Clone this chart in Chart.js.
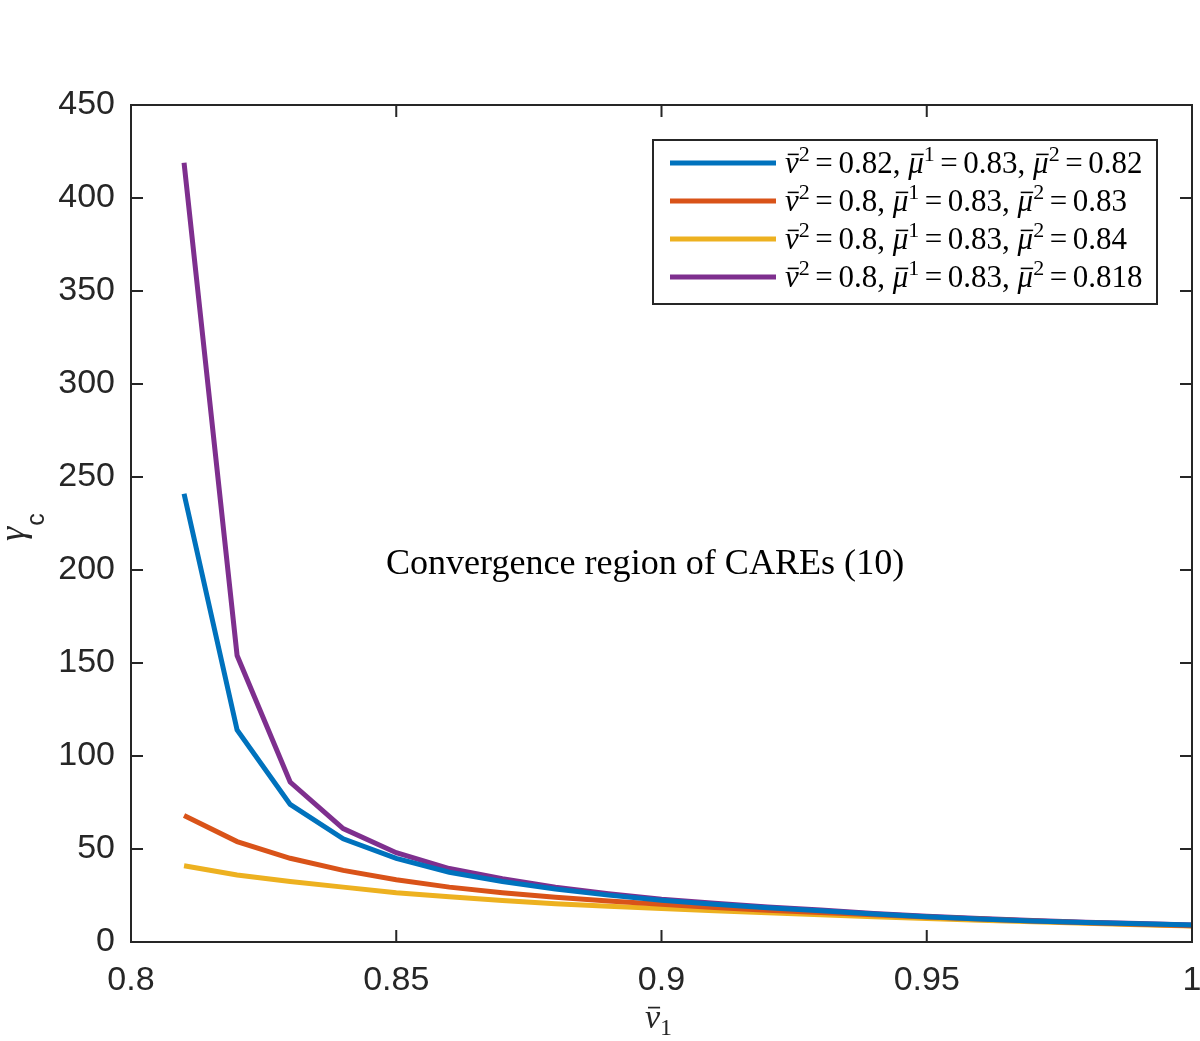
<!DOCTYPE html>
<html><head><meta charset="utf-8">
<script src="https://cdn.jsdelivr.net/npm/chart.js@4/dist/chart.umd.min.js"></script>
<style>html,body{margin:0;padding:0;background:#fff}</style>
</head><body>
<canvas id="c" width="1200" height="1041"></canvas>
<script>
// ---- data ----
const xValues = [0.81,0.82,0.83,0.84,0.85,0.86,0.87,0.88,0.89,0.90,0.91,0.92,0.93,0.94,0.95,0.96,0.97,0.98,0.99,1.00];
const blueValues   = [241,114,74,55.5,45,37.5,32.5,28.5,25.2,22.5,20.3,18.4,16.8,15.1,13.6,12.4,11.3,10.5,9.8,9.1];
const orangeValues = [68,54,45,38.5,33.5,29.5,26.5,24,22,20.3,18.6,17.1,15.8,14.6,13.4,12.3,11.3,10.4,9.6,8.8];
const yellowValues = [41,36,32.5,29.5,26.5,24.3,22.3,20.6,19.2,18,16.8,15.7,14.6,13.6,12.6,11.7,10.9,10.1,9.3,8.6];
const purpleValues = [419,154,86,61,48,39.5,34,29.5,26,23,20.8,18.8,17.2,15.3,13.8,12.6,11.5,10.6,9.9,9.2];
const seriesNames = ["v̄²=0.82, μ̄¹=0.83, μ̄²=0.82","v̄²=0.8, μ̄¹=0.83, μ̄²=0.83","v̄²=0.8, μ̄¹=0.83, μ̄²=0.84","v̄²=0.8, μ̄¹=0.83, μ̄²=0.818"];
const legendParams = [["0.82","0.83","0.82"],["0.8","0.83","0.83"],["0.8","0.83","0.84"],["0.8","0.83","0.818"]];
const seriesColors = ["#0072BD","#D95319","#EDB120","#7E2F8E"];
const xMin = 0.8, xMax = 1.0, xStep = 0.05;
const yMin = 0, yMax = 450, yStep = 50;
const annotationText = "Convergence region of CAREs (10)";
const annotationPos = {x: 0.8969, y: 203};

const SERIF = '"Liberation Serif", "DejaVu Serif", serif';
const SANS = '"Liberation Sans", Arial, sans-serif';
const AXC = '#262626';

function mk(vals){ return xValues.map((x,i)=>({x:x,y:vals[i]})); }
const allVals = [blueValues, orangeValues, yellowValues, purpleValues];

// rich text: tokens [text, kind]; kinds: r, i, ib (italic with bar), sup, sub, eq (relation with spacing)
function drawRich(ctx, x, y, tokens, size){
  let cx = x;
  for (const [t,k] of tokens){
    let f, dy = 0, pre = 0, post = 0;
    if (k==='r') f = size+'px '+SERIF;
    else if (k==='eq') { f = size+'px '+SERIF; pre = post = size*0.18; }
    else if (k==='i' || k==='ib') f = 'italic '+size+'px '+SERIF;
    else if (k==='sup') { f = Math.round(size*0.72)+'px '+SERIF; dy = -size*0.40; }
    else if (k==='sub') { f = Math.round(size*0.72)+'px '+SERIF; dy = size*0.22; }
    ctx.font = f;
    cx += pre;
    ctx.fillText(t, cx, y+dy);
    const w = ctx.measureText(t).width;
    if (k==='ib'){
      ctx.save();
      ctx.lineWidth = Math.max(1, size*0.05);
      ctx.strokeStyle = ctx.fillStyle;
      ctx.beginPath();
      ctx.moveTo(cx + w*0.2, y - size*0.6);
      ctx.lineTo(cx + w*1.0, y - size*0.6);
      ctx.stroke();
      ctx.restore();
    }
    cx += w + post;
  }
  return cx - x;
}

const overlay = {
  id: 'overlay',
  afterDraw(chart){
    const ctx = chart.ctx, a = chart.chartArea;
    const xs = chart.scales.x, ys = chart.scales.y;
    ctx.save();
    // frame
    ctx.strokeStyle = AXC; ctx.lineWidth = 2;
    ctx.strokeRect(a.left, a.top, a.right-a.left, a.bottom-a.top);
    // inward ticks on all four sides
    const TL = 12;
    ctx.beginPath();
    xs.ticks.forEach(t=>{
      const px = xs.getPixelForValue(t.value);
      ctx.moveTo(px, a.bottom); ctx.lineTo(px, a.bottom-TL);
      ctx.moveTo(px, a.top); ctx.lineTo(px, a.top+TL);
    });
    ys.ticks.forEach(t=>{
      const py = ys.getPixelForValue(t.value);
      ctx.moveTo(a.left, py); ctx.lineTo(a.left+TL, py);
      ctx.moveTo(a.right, py); ctx.lineTo(a.right-TL, py);
    });
    ctx.stroke();

    // annotation text
    ctx.fillStyle = '#000';
    ctx.font = '100px '+SERIF;
    const tw = ctx.measureText(annotationText).width;
    const fs = 100*519/tw;
    ctx.font = fs.toFixed(1)+'px '+SERIF;
    ctx.textAlign = 'center'; ctx.textBaseline = 'middle';
    ctx.fillText(annotationText, xs.getPixelForValue(annotationPos.x), ys.getPixelForValue(annotationPos.y));

    // legend
    const lx = 653, ly = 140, lw = 504, lh = 164;
    ctx.fillStyle = '#fff';
    ctx.fillRect(lx, ly, lw, lh);
    ctx.strokeStyle = AXC; ctx.lineWidth = 2;
    ctx.strokeRect(lx, ly, lw, lh);
    ctx.textAlign = 'left'; ctx.textBaseline = 'alphabetic';
    chart.data.datasets.forEach((ds,i)=>{
      const cy = 163 + i*38;
      ctx.strokeStyle = ds.borderColor; ctx.lineWidth = 5; ctx.lineCap = 'butt';
      ctx.beginPath(); ctx.moveTo(670, cy); ctx.lineTo(776, cy); ctx.stroke();
      ctx.fillStyle = '#000';
      const p = legendParams[i];
      drawRich(ctx, 785, cy+10, [
        ['v','ib'],['2','sup'],['=','eq'],[p[0] + ', ','r'],
        ['μ','ib'],['1','sup'],['=','eq'],[p[1] + ', ','r'],
        ['μ','ib'],['2','sup'],['=','eq'],[p[2],'r']
      ], 31);
    });

    // x title
    ctx.fillStyle = AXC;
    drawRich(ctx, 645, 1028, [['v','ib'],['1','sub']], 34);

    // y title
    ctx.save();
    ctx.translate(24, 541);
    ctx.rotate(-Math.PI/2);
    ctx.font = 'italic 36px '+SERIF;
    ctx.fillText('γ', 0, 0);
    const gw = ctx.measureText('γ').width;
    ctx.font = '25px '+SANS;
    ctx.fillText('c', gw+1, 20);
    ctx.restore();

    ctx.restore();
  }
};

new Chart(document.getElementById('c'), {
  type: 'line',
  data: {
    datasets: allVals.map((v,i)=>({
      label: seriesNames[i],
      data: mk(v),
      borderColor: seriesColors[i],
      backgroundColor: seriesColors[i],
      borderWidth: 5,
      pointRadius: 0,
      tension: 0,
      fill: false
    }))
  },
  options: {
    responsive: false,
    animation: false,
    devicePixelRatio: 1,
    layout: { padding: { left: 0, right: 8, top: 105, bottom: 0 } },
    plugins: { legend: { display: false }, tooltip: { enabled: false } },
    scales: {
      x: {
        type: 'linear', min: xMin, max: xMax,
        grid: { display: false, drawTicks: false }, border: { display: false },
        ticks: { stepSize: xStep, padding: 18, color: AXC, font: { family: SANS, size: 34 },
          maxRotation: 0, autoSkip: false,
          callback: v => String(Number(v.toFixed(2))) },
        afterFit: s => { s.height = 99; s.paddingRight = 0; s.paddingLeft = 0; }
      },
      y: {
        type: 'linear', min: yMin, max: yMax,
        grid: { display: false, drawTicks: false }, border: { display: false },
        ticks: { stepSize: yStep, padding: 16, color: AXC, font: { family: SANS, size: 34 } },
        afterFit: s => { s.width = 131; s.paddingTop = 0; s.paddingBottom = 0; }
      }
    }
  },
  plugins: [overlay]
});
</script>
</body></html>
